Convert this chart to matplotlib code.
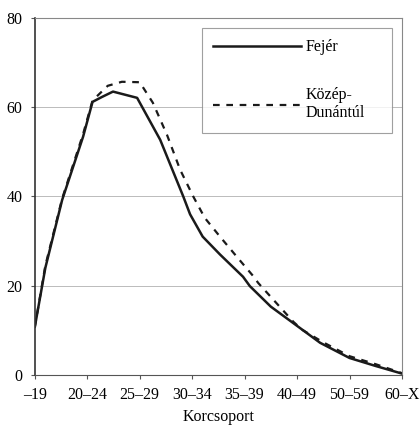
import matplotlib.pyplot as plt
import numpy as np

plt.rcParams['font.family'] = ['Liberation Serif', 'DejaVu Serif']

categories = ['–19', '20–24', '25–29', '30–34', '35–39', '40–49', '50–59', '60–X']

# positions along the category axis (0 = first category) and values
fejer_x = [0, 0.2, 0.52, 0.92, 1.1, 1.28, 1.49, 1.95, 2.39, 2.83, 2.96, 3.2, 3.53,
           3.97, 4.1, 4.5, 4.93, 5.44, 6.0, 6.5, 7.0]
fejer_y = [10.8, 24, 39.2, 53.4, 61.2, 62.3, 63.5, 62.1, 52.7, 40, 36, 31, 27,
           22, 19.9, 15.3, 11.6, 7.2, 3.8, 2.0, 0.3]

kd_x = [0, 0.2, 0.52, 0.92, 1.1, 1.39, 1.66, 2.0, 2.25, 2.52, 2.77, 3.02, 3.24,
        3.53, 3.85, 4.16, 4.26, 4.93, 5.1, 5.5, 6.0, 6.5, 7.0]
kd_y = [10.8, 24.5, 39.5, 54, 61.5, 64.8, 65.7, 65.6, 61, 53.8, 46, 40, 35.2,
        31, 26.5, 22.2, 20.6, 11.9, 10.1, 7.3, 4.2, 2.4, 0.4]

fig = plt.figure(figsize=(4.2, 4.28), dpi=100)
ax = fig.add_axes([0.083, 0.124, 0.874, 0.834])

ax.plot(fejer_x, fejer_y, color='#1a1a1a', lw=1.8, label='Fejér')
ax.plot(kd_x, kd_y, color='#1a1a1a', lw=1.6, linestyle=(0, (3, 3)),
        label='Közép-\nDunántúl')

ax.set_xlim(0, 7)
ax.set_ylim(0, 80)
ax.set_xticks(np.arange(len(categories)))
ax.set_xticklabels(categories)
ax.set_yticks([0, 20, 40, 60, 80])
ax.tick_params(labelsize=11.5, length=3, color='#555555', pad=6)
ax.yaxis.grid(True, color='#bbbbbb', lw=0.7)
ax.set_axisbelow(True)
for s in ax.spines.values():
    s.set_color('#888888')
    s.set_linewidth(0.8)
ax.spines['left'].set_color('#333333')
ax.spines['left'].set_linewidth(1.2)
ax.spines['bottom'].set_color('#555555')

ax.set_xlabel('Korcsoport', fontsize=11.5, labelpad=4)

leg = ax.legend(loc='upper left', bbox_to_anchor=(0.455, 0.68, 0.518, 0.292),
                mode='expand', fancybox=False, frameon=True, fontsize=11.5,
                handlelength=5.5, labelspacing=2.0, borderpad=0.7,
                handletextpad=0.3, borderaxespad=0)
leg.get_frame().set_edgecolor('#888888')
leg.get_frame().set_linewidth(0.8)

fig.savefig('out.png', dpi=100)
